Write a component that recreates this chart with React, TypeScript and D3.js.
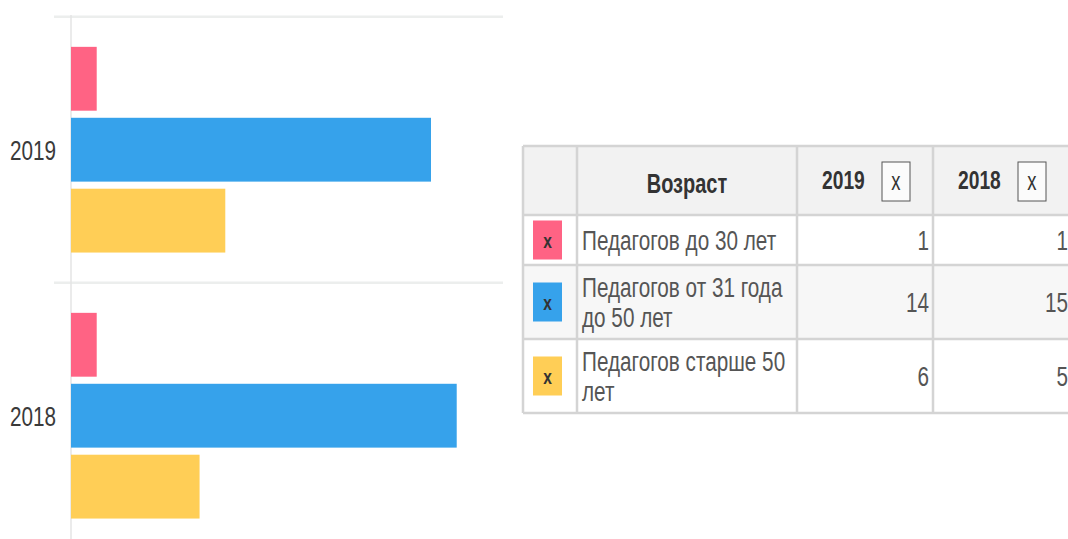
import React from "react";
import * as d3 from "d3";

const years = ["2019", "2018"];
const seriesNames = [
  "Педагогов до 30 лет",
  "Педагогов от 31 года до 50 лет",
  "Педагогов старше 50 лет",
];
const labelLines = [
  ["Педагогов до 30 лет"],
  ["Педагогов от 31 года", "до 50 лет"],
  ["Педагогов старше 50", "лет"],
];
const values2019 = [1, 14, 6];
const values2018 = [1, 15, 5];
const valuesByYear: Record<string, number[]> = { "2019": values2019, "2018": values2018 };
const colors = ["#FF6384", "#36A2EB", "#FFCE56"];
const headerTitle = "Возраст";
const xMax = 16.8;

const SX = 0.74;
const FONT = "'Liberation Sans', Arial, Helvetica, sans-serif";

function CT(props: {
  x: number; y: number; anchor?: string; size: number; weight?: string | number; fill: string; children: React.ReactNode;
}) {
  const { x, y, anchor = "start", size, weight = "normal", fill, children } = props;
  return (
    <text
      transform={`translate(${x},${y}) scale(${SX},1)`}
      textAnchor={anchor as any}
      fontSize={size}
      fontWeight={weight as any}
      fill={fill}
      fontFamily={FONT}
    >
      {children}
    </text>
  );
}

export default function App() {
  const W = 1068, H = 539;
  const x = d3.scaleLinear().domain([0, xMax]).range([71, 503]);
  const y = d3.scaleBand<string>().domain(years).range([16.7, 548.7]).paddingInner(0).paddingOuter(0);
  const bw = y.bandwidth();
  const ySub = d3
    .scaleBand<number>()
    .domain(seriesNames.map((_, i) => i))
    .range([bw * 0.1, bw * 0.9])
    .paddingInner(0.1)
    .paddingOuter(0.05);

  const gridYs = years.map((yr) => y(yr) as number).concat([(y(years[years.length - 1]) as number) + bw]);

  const colX = [523, 577, 797, 933, 1075];
  const rowY = [146, 215, 265, 339, 413];
  const border = "#d4d4d4";
  const rowBg = ["#f2f2f2", "#ffffff", "#f7f7f7", "#ffffff"];
  const lineH = 30;

  return (
    <svg width={W} height={H} style={{ position: "absolute", left: 0, top: 0, background: "#fff" }}>
      {gridYs.map((gy, i) => (
        <line key={"g" + i} x1={54} x2={503} y1={gy} y2={gy} stroke="#eceeed" strokeWidth={2.5} />
      ))}
      <line x1={71} x2={71} y1={15} y2={H} stroke="#e4e4e4" strokeWidth={1.5} />
      {years.map((yr) =>
        valuesByYear[yr].map((v, i) => (
          <rect
            key={yr + i}
            x={x(0)}
            y={(y(yr) as number) + (ySub(i) as number)}
            width={x(v) - x(0)}
            height={ySub.bandwidth()}
            fill={colors[i]}
          />
        ))
      )}
      {years.map((yr) => (
        <CT key={"l" + yr} x={56} y={(y(yr) as number) + bw / 2 + 10} anchor="end" size={28} fill="#3a3a3a">
          {yr}
        </CT>
      ))}

      {rowBg.map((c, r) => (
        <rect key={"bg" + r} x={colX[0]} y={rowY[r]} width={colX[4] - colX[0]} height={rowY[r + 1] - rowY[r]} fill={c} />
      ))}
      {rowY.map((ry, i) => (
        <line key={"hr" + i} x1={colX[0]} x2={colX[4]} y1={ry} y2={ry} stroke={border} strokeWidth={2.5} />
      ))}
      {colX.map((cx, i) => (
        <line key={"vr" + i} x1={cx} x2={cx} y1={rowY[0]} y2={rowY[4]} stroke={border} strokeWidth={2.5} />
      ))}

      <CT x={(colX[1] + colX[2]) / 2} y={193} anchor="middle" size={27} weight="bold" fill="#333">
        {headerTitle}
      </CT>
      {years.map((yr, j) => {
        const cx = colX[2 + j];
        return (
          <g key={"h" + yr}>
            <CT x={cx + 25} y={189} size={26} weight="bold" fill="#333">
              {yr}
            </CT>
            <rect x={cx + 85} y={162} width={28} height={39} fill="#fbfbfb" stroke="#555" strokeWidth={1} />
            <CT x={cx + 99} y={190} anchor="middle" size={25} fill="#333">
              x
            </CT>
          </g>
        );
      })}

      {seriesNames.map((name, i) => {
        const top = rowY[i + 1];
        const bot = rowY[i + 2];
        const mid = (top + bot) / 2;
        const lines = labelLines[i];
        const firstBase = mid + 9.5 - ((lines.length - 1) * lineH) / 2;
        return (
          <g key={"r" + i}>
            <rect x={533} y={mid - 19.5} width={29} height={39} fill={colors[i]} />
            <CT x={547.5} y={mid + 7.5} anchor="middle" size={21} weight="bold" fill="#333">
              x
            </CT>
            {lines.map((ln, k) => (
              <CT key={k} x={582} y={firstBase + k * lineH} size={28} fill="#555">
                {ln}
              </CT>
            ))}
            {years.map((yr, j) => (
              <CT key={yr} x={j === 0 ? colX[3] - 4 : 1068} y={mid + 9.5} anchor="end" size={28} fill="#555">
                {valuesByYear[yr][i]}
              </CT>
            ))}
          </g>
        );
      })}
    </svg>
  );
}
